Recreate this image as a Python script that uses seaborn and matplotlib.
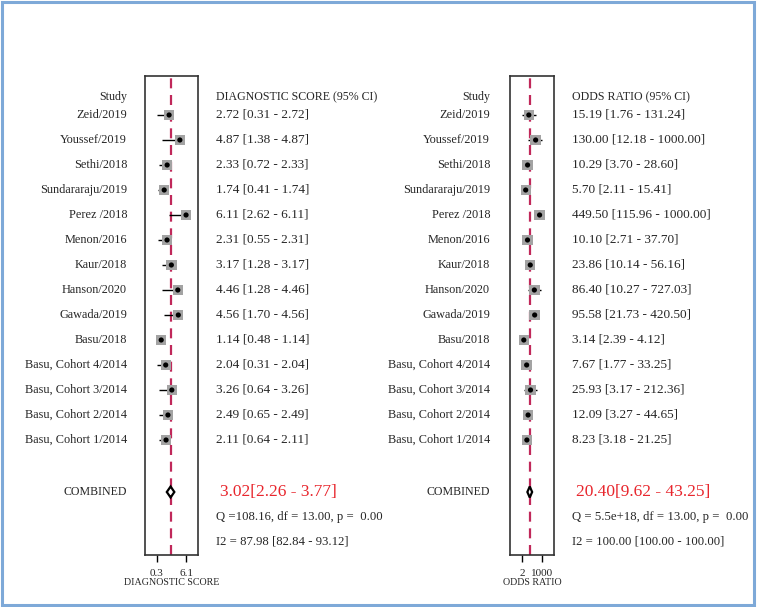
"""Forest plots: diagnostic score and odds ratio per study."""

import matplotlib

matplotlib.use("Agg")
import matplotlib.pyplot as plt
import matplotlib.transforms as mtransforms
import numpy as np
import pandas as pd
import seaborn as sns

studies = [
    "Zeid/2019", "Youssef/2019", "Sethi/2018", "Sundararaju/2019", "Perez /2018",
    "Menon/2016", "Kaur/2018", "Hanson/2020", "Gawada/2019", "Basu/2018",
    "Basu, Cohort 4/2014", "Basu, Cohort 3/2014", "Basu, Cohort 2/2014", "Basu, Cohort 1/2014",
]
ds_est = [2.72, 4.87, 2.33, 1.74, 6.11, 2.31, 3.17, 4.46, 4.56, 1.14, 2.04, 3.26, 2.49, 2.11]
ds_lo = [0.31, 1.38, 0.72, 0.41, 2.62, 0.55, 1.28, 1.28, 1.70, 0.48, 0.31, 0.64, 0.65, 0.64]
ds_hi = [2.72, 4.87, 2.33, 1.74, 6.11, 2.31, 3.17, 4.46, 4.56, 1.14, 2.04, 3.26, 2.49, 2.11]
or_est = [15.19, 130.00, 10.29, 5.70, 449.50, 10.10, 23.86, 86.40, 95.58, 3.14, 7.67, 25.93, 12.09, 8.23]
or_lo = [1.76, 12.18, 3.70, 2.11, 115.96, 2.71, 10.14, 10.27, 21.73, 2.39, 1.77, 3.17, 3.27, 3.18]
or_hi = [131.24, 1000.00, 28.60, 15.41, 1000.00, 37.70, 56.16, 727.03, 420.50, 4.12, 33.25, 212.36, 44.65, 21.25]

ds_pooled = (3.02, 2.26, 3.77)
or_pooled = (20.40, 9.62, 43.25)
ds_stats = ["Q =108.16, df = 13.00, p =  0.00", "I2 = 87.98 [82.84 - 93.12]"]
or_stats = ["Q = 5.5e+18, df = 13.00, p =  0.00", "I2 = 100.00 [100.00 - 100.00]"]
ds_ticks = [0.3, 6.1]
or_ticks = [2, 1000]

W, H = 757, 607
sns.set_theme(style="white")
plt.rcParams["font.family"] = ["Liberation Serif", "DejaVu Serif"]

fig = plt.figure(figsize=(W / 100, H / 100), dpi=100)
fig.patch.set_facecolor("white")
fig.add_artist(plt.Rectangle((0.002, 0.004), 0.994, 0.993, transform=fig.transFigure,
                             fill=False, edgecolor="#7ea9d8", linewidth=2.2))

DASH = "#c0285a"
BOX = "#a3a3a3"
RED = "#e8262d"
NAME_FS = 8.8
VAL_FS = 9.5
STAT_FS = 9.2
HEAD_FS = 8.6


def panel(left, width, est, lo, hi, pooled, stats, ticks, xlim, xlabel, header,
          name_x, val_x, log=False):
    ax = fig.add_axes([left / W, 52 / H, width / W, 479 / H])
    df = pd.DataFrame({"study": studies, "est": est, "lo": lo, "hi": hi,
                       "row": np.arange(len(studies))})
    if log:
        ax.set_xscale("log")
    ax.hlines(df["row"], df["lo"], df["hi"], color="black", linewidth=1.0, zorder=1)
    sns.scatterplot(data=df, x="est", y="row", marker="s", s=56, color=BOX,
                    edgecolor="none", ax=ax, zorder=2, legend=False)
    sns.scatterplot(data=df, x="est", y="row", marker="o", s=14, color="black",
                    edgecolor="none", ax=ax, zorder=3, legend=False)
    ax.axvline(pooled[0], color=DASH, linestyle=(0, (4.5, 3)), linewidth=1.6, zorder=0)
    cy = 15.08
    ax.fill([pooled[1], pooled[0], pooled[2], pooled[0], pooled[1]],
            [cy, cy - 0.22, cy, cy + 0.22, cy],
            facecolor="none", edgecolor="black", linewidth=1.6, zorder=3)
    ax.set_xlim(*xlim)
    ax.set_ylim(17.6, -1.56)
    ax.set_yticks([])
    ax.set_xticks(ticks)
    ax.set_xticklabels([str(t) for t in ticks])
    ax.minorticks_off()
    ax.tick_params(axis="x", bottom=True, length=5, width=1, labelsize=8, pad=5,
                   color="black")
    ax.set_xlabel(xlabel, fontsize=7.2, labelpad=0)
    ax.set_ylabel("")
    for s in ax.spines.values():
        s.set_color("#333333")
        s.set_linewidth(1.2)

    tr = mtransforms.blended_transform_factory(fig.transFigure, ax.transData)
    fig.text(name_x / W, -0.72, "Study", transform=tr, ha="right", va="center", fontsize=HEAD_FS)
    fig.text(val_x / W, -0.72, header, transform=tr, ha="left", va="center", fontsize=HEAD_FS)
    for _, r in df.iterrows():
        fig.text(name_x / W, r["row"], r["study"], transform=tr, ha="right",
                 va="center", fontsize=NAME_FS)
        fig.text(val_x / W, r["row"], f"{r['est']:.2f} [{r['lo']:.2f} - {r['hi']:.2f}]",
                 transform=tr, ha="left", va="center", fontsize=VAL_FS)
    fig.text(name_x / W, cy, "COMBINED", transform=tr, ha="right", va="center", fontsize=HEAD_FS)
    fig.text((val_x + 4) / W, cy, f"{pooled[0]:.2f}[{pooled[1]:.2f} - {pooled[2]:.2f}]",
             transform=tr, ha="left", va="center", fontsize=12.5, color=RED)
    fig.text(val_x / W, 16.08, stats[0], transform=tr, ha="left", va="center", fontsize=STAT_FS)
    fig.text(val_x / W, 17.08, stats[1], transform=tr, ha="left", va="center", fontsize=STAT_FS)
    return ax


panel(145, 53, ds_est, ds_lo, ds_hi, ds_pooled, ds_stats, ds_ticks, (-2.1, 8.5),
      "DIAGNOSTIC SCORE", "DIAGNOSTIC SCORE (95% CI)", 127, 216)
panel(510, 44, or_est, or_lo, or_hi, or_pooled, or_stats, or_ticks, (0.041, 41700),
      "ODDS RATIO", "ODDS RATIO (95% CI)", 490, 572, log=True)

fig.savefig("out.png", dpi=100)
